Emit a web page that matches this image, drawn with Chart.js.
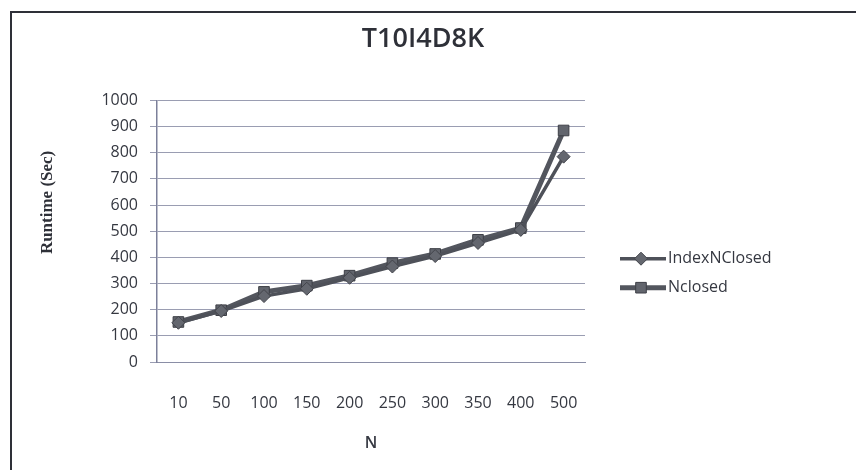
<!DOCTYPE html>
<html>
<head>
<meta charset="utf-8">
<script src="https://cdn.jsdelivr.net/npm/chart.js@4/dist/chart.umd.min.js"></script>
<style>
  html, body { margin: 0; padding: 0; background: #fff; }
  #wrap { width: 856px; height: 470px; position: relative; }
</style>
</head>
<body>
<div id="wrap"><canvas id="c" width="856" height="470"></canvas></div>
<script>
// Runtime (seconds) on T10I4D8K for each N
const categories = ['10', '50', '100', '150', '200', '250', '300', '350', '400', '500'];
const indexNClosed = [150, 195, 252, 280, 322, 365, 405, 455, 505, 785];
const nClosed = [153, 198, 268, 292, 330, 378, 413, 467, 512, 885];
const yTicks = [0, 100, 200, 300, 400, 500, 600, 700, 800, 900, 1000];
const yAxisTitle = 'Runtime (Sec)';

const FONT = "'Open Sans', 'DejaVu Sans', sans-serif";
const INK = '#353841';
const LINE = '#4e5159';

// Frame around the whole chart object
const framePlugin = {
  id: 'frame',
  beforeDraw(chart) {
    const ctx = chart.ctx;
    ctx.save();
    ctx.fillStyle = '#ffffff';
    ctx.fillRect(0, 0, chart.width, chart.height);
    ctx.strokeStyle = '#2e3038';
    ctx.lineWidth = 2;
    ctx.strokeRect(11, 12, chart.width + 40, chart.height + 40);
    ctx.restore();
  }
};

// Vertical axis title, set a little above the middle of the plot
const yTitlePlugin = {
  id: 'yTitle',
  afterDraw(chart) {
    const ctx = chart.ctx;
    const area = chart.chartArea;
    ctx.save();
    ctx.translate(area.left - 109, area.top + (area.bottom - area.top) * 0.39);
    ctx.rotate(-Math.PI / 2);
    ctx.fillStyle = '#2e3038';
    ctx.font = "bold 17px 'Liberation Serif', 'DejaVu Serif', serif";
    ctx.textAlign = 'center';
    ctx.textBaseline = 'middle';
    ctx.fillText(yAxisTitle, 0, 0);
    ctx.restore();
  }
};

// Legend to the right of the plot: line sample with marker, then label
const sideLegend = {
  id: 'sideLegend',
  afterDraw(chart) {
    const ctx = chart.ctx;
    const area = chart.chartArea;
    const x0 = area.right + 35;
    const yMid = (area.top + area.bottom) / 2 + 42;
    ctx.save();
    chart.data.datasets.forEach((ds, i) => {
      const y = yMid + (i - 0.5) * 29;
      ctx.strokeStyle = ds.borderColor;
      ctx.lineWidth = ds.borderWidth;
      ctx.beginPath();
      ctx.moveTo(x0, y);
      ctx.lineTo(x0 + 46, y);
      ctx.stroke();
      ctx.fillStyle = ds.pointBackgroundColor;
      ctx.strokeStyle = ds.pointBorderColor;
      ctx.lineWidth = ds.pointBorderWidth;
      Chart.helpers.drawPoint(ctx, {
        pointStyle: ds.pointStyle,
        radius: ds.pointRadius,
        rotation: 0,
        borderWidth: ds.pointBorderWidth
      }, x0 + 21, y);
      ctx.fillStyle = INK;
      ctx.font = '16px ' + FONT;
      ctx.textBaseline = 'middle';
      ctx.textAlign = 'left';
      ctx.fillText(ds.label, x0 + 48, y);
    });
    ctx.restore();
  }
};

new Chart(document.getElementById('c'), {
  type: 'line',
  data: {
    labels: categories,
    datasets: [
      {
        label: 'IndexNClosed',
        data: indexNClosed,
        borderColor: LINE,
        backgroundColor: '#64676f',
        borderWidth: 3.5,
        pointStyle: 'rectRot',
        pointRadius: 6.5,
        pointBackgroundColor: '#64676f',
        pointBorderColor: '#42444b',
        pointBorderWidth: 1,
        tension: 0,
        order: 1
      },
      {
        label: 'Nclosed',
        data: nClosed,
        borderColor: '#53565e',
        backgroundColor: '#62656d',
        borderWidth: 5,
        pointStyle: 'rect',
        pointRadius: 7.5,
        pointBackgroundColor: '#62656d',
        pointBorderColor: '#3d3f46',
        pointBorderWidth: 1,
        tension: 0,
        order: 2
      }
    ]
  },
  options: {
    responsive: false,
    animation: false,
    layout: { padding: { left: 0, right: 10, top: 0, bottom: 0 } },
    plugins: {
      legend: { display: false },
      tooltip: { enabled: false },
      title: {
        display: true,
        text: 'T10I4D8K',
        color: '#2e3038',
        font: { family: FONT, size: 27, weight: '600' },
        padding: { top: 23, bottom: 45 }
      }
    },
    scales: {
      x: {
        offset: true,
        grid: { display: false },
        border: { display: true, color: '#8a8ea6', width: 1 },
        ticks: {
          color: INK,
          font: { family: FONT, size: 16 },
          padding: 24,
          maxRotation: 0,
          autoSkip: false
        },
        title: {
          display: true,
          text: 'N',
          color: INK,
          font: { family: FONT, size: 16, weight: '600' },
          padding: { top: 0, bottom: 17 }
        },
        afterFit(scale) { scale.height = 108; }
      },
      y: {
        min: 0,
        max: 1000,
        afterBuildTicks(scale) { scale.ticks = yTicks.map(v => ({ value: v })); },
        grid: { color: '#9a9db2', lineWidth: 1, tickLength: 7 },
        border: { display: true, color: '#7c809a', width: 1.5 },
        ticks: {
          color: INK,
          font: { family: FONT, size: 16 },
          padding: 12,
          callback: (v) => String(v)
        },
        afterFit(scale) { scale.width = 157; }
      },
      ySpace: {
        position: 'right',
        display: true,
        grid: { display: false },
        border: { display: false },
        ticks: { display: false },
        afterFit(scale) { scale.width = 261; }
      }
    }
  },
  plugins: [framePlugin, yTitlePlugin, sideLegend]
});
</script>
</body>
</html>
